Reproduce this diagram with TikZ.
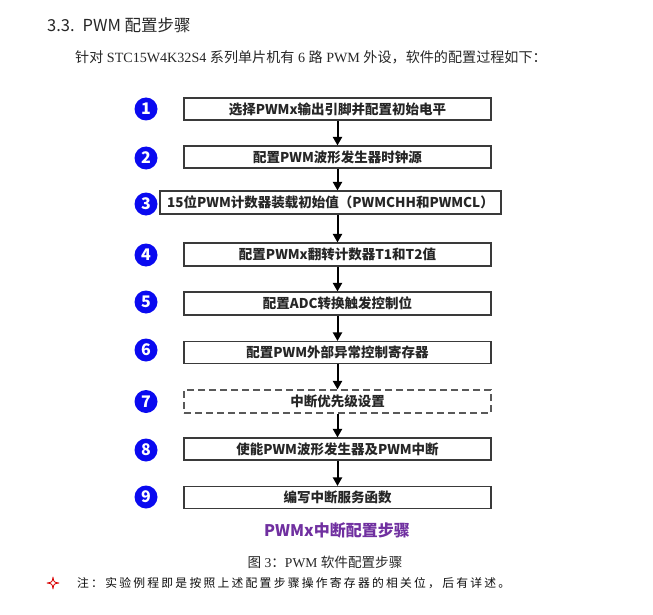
\documentclass[tikz,border=0pt]{standalone}
\usepackage{fontspec}
\setmainfont{Liberation Serif}
\newfontfamily\cjk{Noto Sans CJK SC}
\usetikzlibrary{arrows.meta}
\definecolor{stepblue}{HTML}{0A0AF0}
\definecolor{titlepurple}{HTML}{7030A0}
\definecolor{boxline}{HTML}{3A3A3A}
\begin{document}
\begin{tikzpicture}[x=1pt,y=-1pt,
  stepbox/.style={draw=boxline, line width=1.1pt, minimum width=307pt, minimum height=22pt, inner sep=0pt, font=\cjk\bfseries\fontsize{13.5}{14}\selectfont, text=black!85},
  dashbox/.style={stepbox, draw=black!65, dash pattern=on 7pt off 4pt},
  num/.style={circle, fill=stepblue, minimum size=23pt, inner sep=0pt, text=white, font=\cjk\bfseries\fontsize{16}{16}\selectfont},
  arr/.style={line width=2pt, -{Triangle[length=8.5pt,width=9pt]}},
  plain/.style={inner sep=0pt, text=black!85}]
\useasboundingbox (0,0) rectangle (653,615);
% header
\node[plain, anchor=west, font=\cjk\fontsize{16.5}{17}\selectfont] (head) at (47,25) {3.3.\hspace{8pt}PWM 配置步骤};
\node[plain, anchor=west, font=\fontsize{14.1}{15}\selectfont] (intro) at (75,57) {{\cjk 针对} STC15W4K32S4 {\cjk 系列单片机有} 6 {\cjk 路} PWM {\cjk 外设，软件的配置过程如下：}};
% steps
\node[stepbox] (b1) at (337.5,109) {选择PWMx输出引脚并配置初始电平};
\node[stepbox] (b2) at (337.5,157) {配置PWM波形发生器时钟源};
\node[stepbox, minimum width=341pt, minimum height=23pt] (b3) at (330.5,202.5) {15位PWM计数器装载初始值（PWMCHH和PWMCL）};
\node[stepbox, minimum height=23pt] (b4) at (337.5,254.5) {配置PWMx翻转计数器T1和T2值};
\node[stepbox, minimum height=23pt] (b5) at (337.5,303.5) {配置ADC转换触发控制位};
\node[stepbox] (b6) at (337.5,352.5) {配置PWM外部异常控制寄存器};
\node[dashbox, minimum height=23pt] (b7) at (337.5,401.5) {中断优先级设置};
\node[stepbox] (b8) at (337.5,449) {使能PWM波形发生器及PWM中断};
\node[stepbox] (b9) at (337.5,497.5) {编写中断服务函数};
% numbers
\node[num] (n1) at (146,109) {1};
\node[num] (n2) at (146,158) {2};
\node[num] (n3) at (146,204) {3};
\node[num] (n4) at (146,255) {4};
\node[num] (n5) at (146,302) {5};
\node[num] (n6) at (146,350) {6};
\node[num] (n7) at (146,401.5) {7};
\node[num] (n8) at (146,450) {8};
\node[num] (n9) at (146,497) {9};
% arrows
\draw[arr] (b1.south) -- (b2.north);
\draw[arr] (b2.south) -- (b2.south |- b3.north);
\draw[arr] (b2.south |- b3.south) -- (b4.north);
\draw[arr] (b4.south) -- (b5.north);
\draw[arr] (b5.south) -- (b6.north);
\draw[arr] (b6.south) -- (b7.north);
\draw[arr] (b7.south) -- (b8.north);
\draw[arr] (b8.south) -- (b9.north);
% title
\node[plain, text=titlepurple, font=\cjk\bfseries\fontsize{16}{16}\selectfont] (ttl) at (337,530) {PWMx中断配置步骤};
% caption
\node[plain, font=\fontsize{13.6}{14}\selectfont] (cap) at (325,562) {{\cjk 图} 3{\cjk ：}PWM {\cjk 软件配置步骤}};
% note
\coordinate (star) at (53,583);
\draw[red!85!black, line width=0.8pt, line join=round]
  ([yshift=-6pt]star) .. controls ([xshift=0.8pt,yshift=-0.8pt]star) .. ([xshift=6pt]star)
  .. controls ([xshift=0.8pt,yshift=0.8pt]star) .. ([yshift=6pt]star)
  .. controls ([xshift=-0.8pt,yshift=0.8pt]star) .. ([xshift=-6pt]star)
  .. controls ([xshift=-0.8pt,yshift=-0.8pt]star) .. cycle;
\node[plain, anchor=west, text=black!95, font=\cjk\addfontfeature{LetterSpace=19}\fontsize{11.8}{12}\selectfont] (note) at (77,583) {注：实验例程即是按照上述配置步骤操作寄存器的相关位，后有详述。};
\end{tikzpicture}
\end{document}
